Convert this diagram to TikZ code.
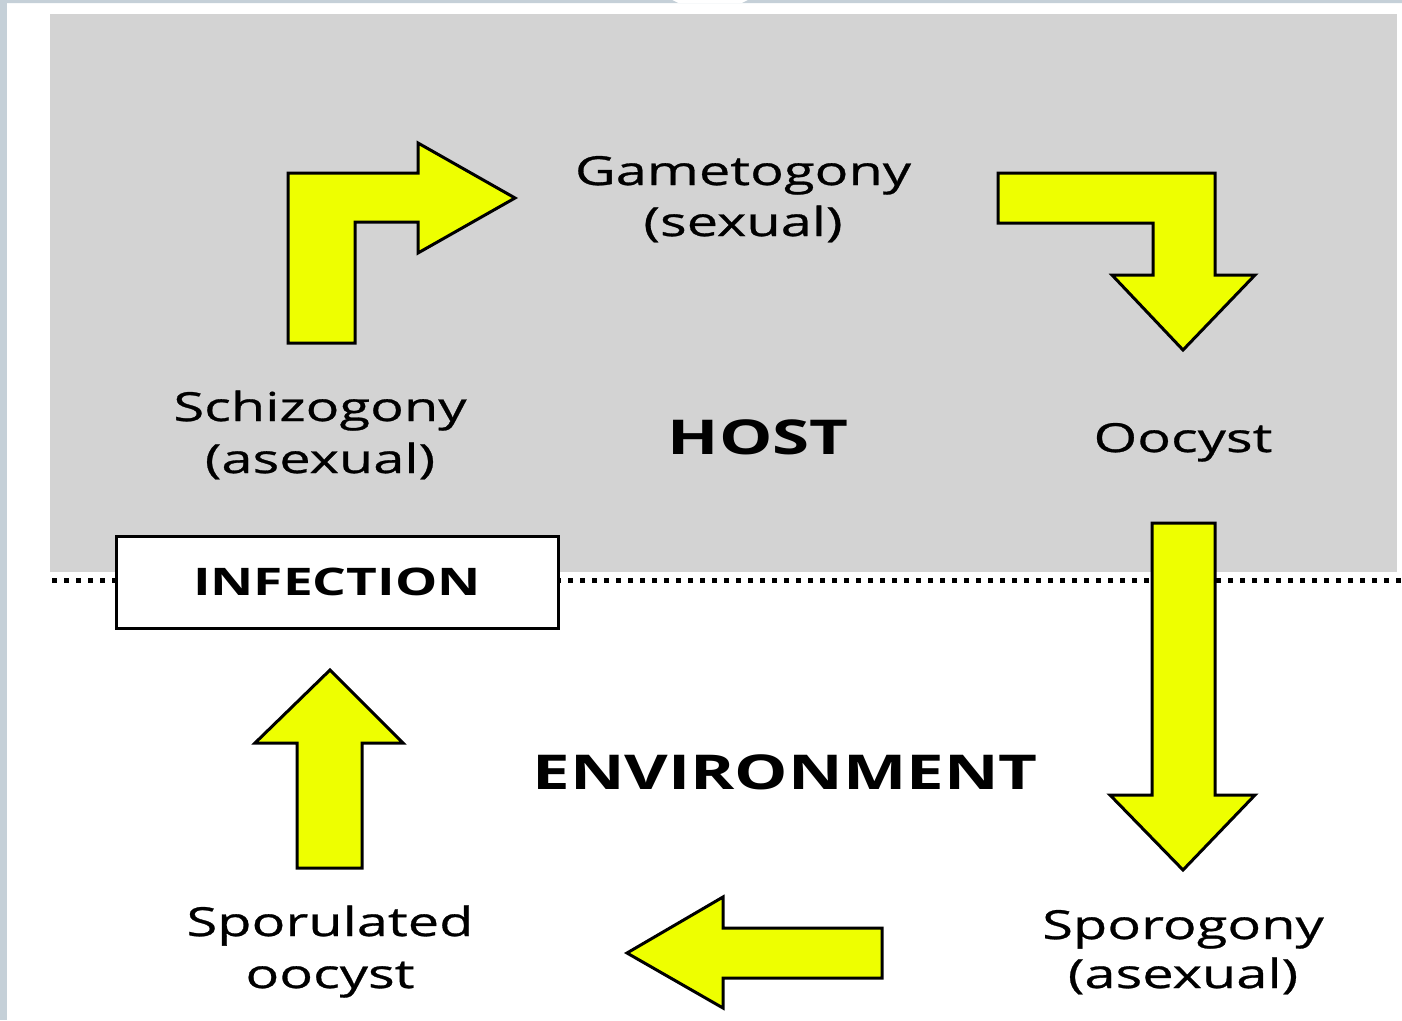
\documentclass[tikz,border=0pt]{standalone}
\usepackage{fontspec}
\newfontfamily\lbl{Open Sans}[FakeStretch=1.4,FakeBold=0.7]
\newfontfamily\lblb{Open Sans Bold}[FakeStretch=1.4]
\definecolor{hostgray}{HTML}{D3D3D3}
\definecolor{frame}{HTML}{C5D0D8}
\definecolor{arrowyellow}{HTML}{EEFF00}
\begin{document}
\begin{tikzpicture}[x=1pt,y=-1pt,
  blockarrow/.style={fill=arrowyellow,draw=black,line width=3pt,line join=miter},
  txt/.style={inner sep=0pt,anchor=base,font=\lbl\fontsize{40}{46}\selectfont},
  bigtxt/.style={inner sep=0pt,anchor=base,font=\lblb\fontsize{48}{54}\selectfont},
  boxtxt/.style={draw=black,line width=3pt,fill=white,minimum width=442pt,minimum height=92pt,inner sep=0pt,font=\lblb\fontsize{38}{44}\selectfont}]
\useasboundingbox (0,0) rectangle (1402,1020);
% background and frame
\fill[white] (0,0) rectangle (1402,1020);
\fill[frame] (0,0) rectangle (7,1020);
\fill[frame] (7,0) -- (672,0) -- (678,3) -- (742,3) -- (748,0) -- (1402,0) -- (1402,3) -- (7,3) -- cycle;
\fill[hostgray] (50,14) rectangle (1397,572);
% dotted boundary
\draw[line width=5pt,dash pattern=on 5pt off 7pt] (52,580) -- (1402,580);
% labels
\node[txt] (gam1) at (743,185) {Gametogony};
\node[txt] (gam2) at (743,236) {(sexual)};
\node[txt] (sch1) at (320,421) {Schizogony};
\node[txt] (sch2) at (320,473) {(asexual)};
\node[bigtxt] (host) at (758,454) {HOST};
\node[txt] (ooc) at (1183,452) {Oocyst};
\node[bigtxt] (env) at (785,789) {ENVIRONMENT};
\node[txt] (spl1) at (330,936) {Sporulated};
\node[txt] (spl2) at (330,988) {oocyst};
\node[txt] (spg1) at (1183,939) {Sporogony};
\node[txt] (spg2) at (1183,988) {(asexual)};
\node[boxtxt] (inf) at (337,582) {INFECTION};
% block arrows
\draw[blockarrow] (288,343) -- (288,173) -- (418,173) -- (418,143) -- (515,198) -- (418,253) -- (418,222) -- (355,222) -- (355,343) -- cycle;
\draw[blockarrow] (998,173) -- (1215,173) -- (1215,275) -- (1255,275) -- (1183,350) -- (1112,275) -- (1153,275) -- (1153,223) -- (998,223) -- cycle;
\draw[blockarrow] (1152,523) -- (1215,523) -- (1215,795) -- (1255,795) -- (1183,870) -- (1110,795) -- (1152,795) -- cycle;
\draw[blockarrow] (882,928) -- (723,928) -- (723,897) -- (627,953) -- (723,1008) -- (723,978) -- (882,978) -- cycle;
\draw[blockarrow] (297,868) -- (297,743) -- (255,743) -- (330,670) -- (403,743) -- (362,743) -- (362,868) -- cycle;
\end{tikzpicture}
\end{document}
